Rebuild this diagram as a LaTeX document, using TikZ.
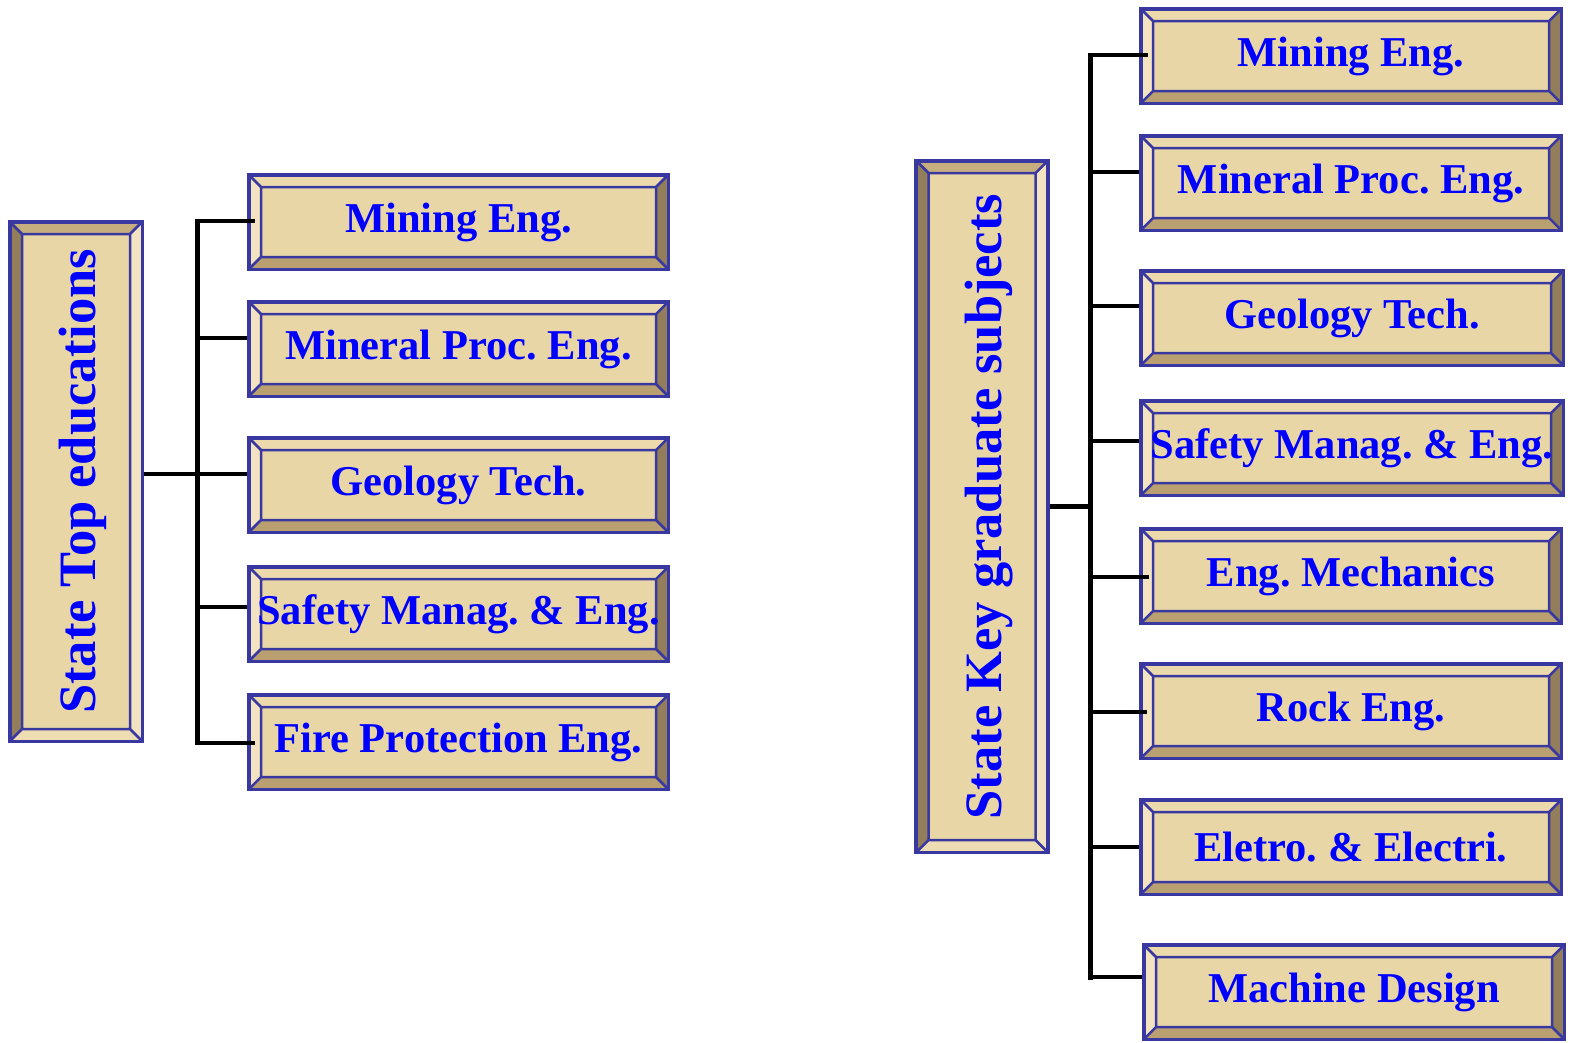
\documentclass[tikz,border=0pt]{standalone}
\usepackage{fontspec}
\setmainfont{Liberation Serif}
\frenchspacing
\definecolor{tanc}{RGB}{233,214,166}
\definecolor{bordc}{RGB}{56,56,160}
\definecolor{bvlight}{RGB}{243,227,192}
\definecolor{bvtop}{RGB}{236,218,172}
\definecolor{bvmid}{RGB}{198,174,126}
\definecolor{bvbot}{RGB}{186,160,112}
\definecolor{bvdark}{RGB}{146,126,90}
\definecolor{bvvbot}{RGB}{238,220,178}
\definecolor{txtblue}{RGB}{0,0,255}
\newcommand{\bevelpic}[4]{%
  \path (path picture bounding box.north west) coordinate (A)
        (path picture bounding box.north east) coordinate (B)
        (path picture bounding box.south east) coordinate (C)
        (path picture bounding box.south west) coordinate (D);
  \path ([shift={(13pt,-13pt)}]A) coordinate (a)
        ([shift={(-13pt,-13pt)}]B) coordinate (b)
        ([shift={(-13pt,13pt)}]C) coordinate (c)
        ([shift={(13pt,13pt)}]D) coordinate (d);
  \fill[#1] (A)--(B)--(b)--(a)--cycle;
  \fill[#2] (A)--(a)--(d)--(D)--cycle;
  \fill[#3] (D)--(d)--(c)--(C)--cycle;
  \fill[#4] (B)--(C)--(c)--(b)--cycle;
  \draw[bordc, line width=2.5pt] (a) rectangle (c) (A)--(a) (B)--(b) (C)--(c) (D)--(d);
  \draw[bordc, line width=5pt] (A) rectangle (C);
}
\tikzset{
  boxbase/.style={rectangle, draw=bordc, line width=2.5pt, fill=tanc, inner sep=0pt,
    text=txtblue},
  hbox/.style={boxbase, minimum height=96pt,
    font=\bfseries\fontsize{42.5}{48}\selectfont,
    path picture={\bevelpic{bvtop}{bvlight}{bvbot}{bvdark}}},
  vbox/.style={boxbase,
    font=\bfseries\fontsize{52.5}{60}\selectfont,
    path picture={\bevelpic{bvmid}{bvdark}{bvvbot}{bvlight}}},
  conn/.style={draw=black, line width=4.8pt}
}
\begin{document}
\begin{tikzpicture}[x=1pt,y=-1pt]
\useasboundingbox (0,0) rectangle (1570,1042);
% left group
\node[vbox, minimum width=134pt, minimum height=521pt] (V1) at (76,481.5) {\hspace*{14pt}\rotatebox{90}{State Top educations}};
\node[hbox, minimum width=421pt] (L1) at (458.5,222) {Mining Eng.};
\node[hbox, minimum width=421pt] (L2) at (458.5,349) {Mineral Proc. Eng.};
\node[hbox, minimum width=421pt] (L3) at (458.5,485) {Geology Tech.};
\node[hbox, minimum width=421pt] (L4) at (458.5,614) {Safety Manag. \& Eng.};
\node[hbox, minimum width=421pt] (L5) at (458.5,742) {Fire Protection Eng.};
% right group
\node[vbox, minimum width=133pt, minimum height=693pt] (V2) at (982,506.5) {\hspace*{14pt}\rotatebox{90}{State Key graduate subjects}};
\node[hbox, minimum width=422pt] (R1) at (1351,56) {Mining Eng.};
\node[hbox, minimum width=422pt] (R2) at (1351,183) {Mineral Proc. Eng.};
\node[hbox, minimum width=424pt] (R3) at (1352,318) {Geology Tech.};
\node[hbox, minimum width=424pt] (R4) at (1352,448) {Safety Manag. \& Eng.};
\node[hbox, minimum width=422pt] (R5) at (1351,576) {Eng. Mechanics};
\node[hbox, minimum width=422pt] (R6) at (1351,711) {Rock Eng.};
\node[hbox, minimum width=422pt] (R7) at (1351,847) {Eletro. \& Electri.};
\node[hbox, minimum width=422pt] (R8) at (1354,992) {Machine Design};
% trunks
\coordinate (LT) at (197.5,219);
\coordinate (LB) at (197.5,745);
\coordinate (RT) at (1090.5,53);
\coordinate (RB) at (1090.5,980);
\draw[conn] (LT) -- (LB);
\draw[conn] (RT) -- (RB);
\path ([yshift=7.5pt]V1.east) coordinate (v1s);
\draw[conn] (v1s) -- (v1s -| LT);
\draw[conn] (V2.east) -- (V2.east -| RT);
\foreach \n/\dx/\dy in {L1/8/1, L2/0/11, L3/0/11, L4/0/7, L5/8/-1}{
  \path ([shift={(\dx pt,\dy pt)}]\n.west) coordinate (s);
  \draw[conn] (s) -- (s -| LT);
}
\foreach \n/\dx/\dy in {R1/9/1, R2/0/11, R3/0/12, R4/0/7, R5/10/-1, R6/8/-1, R7/0/0, R8/0/15}{
  \path ([shift={(\dx pt,\dy pt)}]\n.west) coordinate (s);
  \draw[conn] (s) -- (s -| RT);
}
\end{tikzpicture}
\end{document}
